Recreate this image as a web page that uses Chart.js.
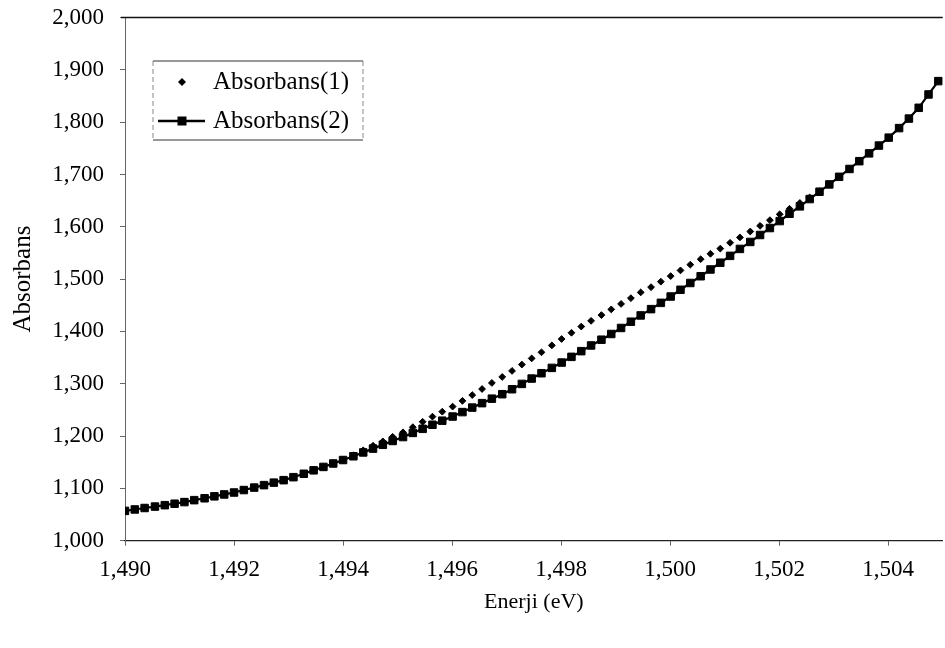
<!DOCTYPE html>
<html>
<head>
<meta charset="utf-8">
<script src="https://cdn.jsdelivr.net/npm/chart.js@4.4.1/dist/chart.umd.min.js"></script>
<style>
  html, body { margin: 0; padding: 0; background: #fff; overflow: hidden; }
  #wrap { width: 949px; height: 648px; }
</style>
</head>
<body>
<div id="wrap"><canvas id="absChart" width="949" height="648"></canvas></div>
<script>
// photon energy (eV) of each measured point
const energy = [
  1.49000, 1.49018, 1.49036, 1.49055, 1.49073, 1.49091, 1.49109, 1.49127, 1.49146, 1.49164,
  1.49182, 1.49200, 1.49218, 1.49237, 1.49255, 1.49273, 1.49291, 1.49309, 1.49328, 1.49346,
  1.49364, 1.49382, 1.49400, 1.49419, 1.49437, 1.49455, 1.49473, 1.49491, 1.49510, 1.49528,
  1.49546, 1.49564, 1.49582, 1.49601, 1.49619, 1.49637, 1.49655, 1.49673, 1.49692, 1.49710,
  1.49728, 1.49746, 1.49764, 1.49783, 1.49801, 1.49819, 1.49837, 1.49855, 1.49874, 1.49892,
  1.49910, 1.49928, 1.49946, 1.49965, 1.49983, 1.50001, 1.50019, 1.50037, 1.50056, 1.50074,
  1.50092, 1.50110, 1.50128, 1.50147, 1.50165, 1.50183, 1.50201, 1.50219, 1.50238, 1.50256,
  1.50274, 1.50292, 1.50310, 1.50329, 1.50347, 1.50365, 1.50383, 1.50401, 1.50420, 1.50438,
  1.50456, 1.50474, 1.50492
];

const absorbans1 = [
  1.0570, 1.0597, 1.0625, 1.0652, 1.0679, 1.0707, 1.0738, 1.0775, 1.0811, 1.0848,
  1.0884, 1.0921, 1.0968, 1.1015, 1.1062, 1.1110, 1.1157, 1.1214, 1.1279, 1.1345,
  1.1410, 1.1476, 1.1542, 1.1634, 1.1727, 1.1815, 1.1898, 1.1986, 1.2071, 1.2170,
  1.2273, 1.2371, 1.2466, 1.2563, 1.2673, 1.2784, 1.2899, 1.3015, 1.3130, 1.3245,
  1.3367, 1.3484, 1.3601, 1.3733, 1.3855, 1.3974, 1.4093, 1.4202, 1.4312, 1.4421,
  1.4526, 1.4636, 1.4746, 1.4846, 1.4951, 1.5057, 1.5166, 1.5276, 1.5380, 1.5484,
  1.5583, 1.5694, 1.5797, 1.5910, 1.6018, 1.6126, 1.6239, 1.6344, 1.6455, 1.6560,
  1.6680, 1.6810, 1.6955, 1.7105, 1.7254, 1.7403, 1.7552, 1.7704, 1.7886, 1.8068,
  1.8274, 1.8529, 1.8784
];

const absorbans2 = [
  1.0570, 1.0597, 1.0625, 1.0652, 1.0679, 1.0707, 1.0738, 1.0775, 1.0811, 1.0848,
  1.0884, 1.0921, 1.0968, 1.1015, 1.1062, 1.1110, 1.1157, 1.1214, 1.1279, 1.1345,
  1.1410, 1.1476, 1.1542, 1.1614, 1.1687, 1.1760, 1.1833, 1.1906, 1.1981, 1.2060,
  1.2138, 1.2216, 1.2294, 1.2373, 1.2458, 1.2544, 1.2629, 1.2715, 1.2800, 1.2895,
  1.2997, 1.3099, 1.3201, 1.3303, 1.3405, 1.3514, 1.3623, 1.3732, 1.3842, 1.3951,
  1.4066, 1.4186, 1.4306, 1.4426, 1.4546, 1.4667, 1.4796, 1.4926, 1.5055, 1.5184,
  1.5313, 1.5444, 1.5577, 1.5710, 1.5843, 1.5976, 1.6109, 1.6249, 1.6390, 1.6530,
  1.6670, 1.6810, 1.6955, 1.7105, 1.7254, 1.7403, 1.7552, 1.7704, 1.7886, 1.8068,
  1.8274, 1.8529, 1.8784
];

const seriesNames = ['Absorbans(1)', 'Absorbans(2)'];
const xTicks = [1.490, 1.492, 1.494, 1.496, 1.498, 1.500, 1.502, 1.504];
const yTicks = [1.0, 1.1, 1.2, 1.3, 1.4, 1.5, 1.6, 1.7, 1.8, 1.9, 2.0];

const serif = '"Liberation Serif", "Times New Roman", serif';
const comma = v => Number(v).toFixed(3).replace('.', ',');
const toPoints = ys => energy.map((x, i) => ({ x: x, y: ys[i] }));

// top frame line and the boxed legend in the upper left of the plot
const framePlugin = {
  id: 'frame',
  afterDraw(chart) {
    const { ctx, chartArea: a } = chart;
    ctx.save();
    ctx.strokeStyle = '#111';
    ctx.lineWidth = 1.5;
    ctx.beginPath();
    ctx.moveTo(a.left - 4, a.top);
    ctx.lineTo(a.right, a.top);
    ctx.stroke();

    const bx = a.left + 28, by = a.top + 43.5, bw = 210, bh = 79;
    ctx.fillStyle = '#fff';
    ctx.fillRect(bx, by, bw, bh);
    ctx.lineWidth = 1.2;
    ctx.strokeStyle = '#333';
    ctx.beginPath();
    ctx.moveTo(bx, by); ctx.lineTo(bx + bw, by);
    ctx.moveTo(bx, by + bh); ctx.lineTo(bx + bw, by + bh);
    ctx.stroke();
    ctx.setLineDash([5, 3]);
    ctx.strokeStyle = '#888';
    ctx.lineWidth = 1;
    ctx.beginPath();
    ctx.moveTo(bx, by); ctx.lineTo(bx, by + bh);
    ctx.moveTo(bx + bw, by); ctx.lineTo(bx + bw, by + bh);
    ctx.stroke();
    ctx.setLineDash([]);

    const mx = bx + 29, r1 = by + 21, r2 = by + 60;
    ctx.fillStyle = '#000';
    // diamond marker
    ctx.beginPath();
    ctx.moveTo(mx, r1 - 4); ctx.lineTo(mx + 4, r1);
    ctx.lineTo(mx, r1 + 4); ctx.lineTo(mx - 4, r1);
    ctx.closePath();
    ctx.fill();
    // line with square marker
    ctx.strokeStyle = '#000';
    ctx.lineWidth = 2.5;
    ctx.beginPath();
    ctx.moveTo(bx + 5, r2); ctx.lineTo(bx + 52, r2);
    ctx.stroke();
    ctx.fillRect(mx - 4.5, r2 - 4.5, 9, 9);

    ctx.font = '25px ' + serif;
    ctx.textBaseline = 'middle';
    ctx.textAlign = 'left';
    ctx.fillText(seriesNames[0], bx + 60, r1);
    ctx.fillText(seriesNames[1], bx + 60, r2);
    ctx.restore();
  }
};

new Chart(document.getElementById('absChart'), {
  type: 'scatter',
  data: {
    datasets: [
      {
        label: seriesNames[0],
        data: toPoints(absorbans1),
        showLine: false,
        pointStyle: 'rectRot',
        pointRadius: 3.4,
        borderWidth: 1,
        backgroundColor: '#000',
        borderColor: '#000',
        order: 2
      },
      {
        label: seriesNames[1],
        data: toPoints(absorbans2),
        showLine: true,
        tension: 0,
        pointStyle: 'rect',
        pointRadius: 5.3,
        borderWidth: 2.2,
        pointBorderWidth: 1,
        backgroundColor: '#000',
        borderColor: '#000',
        order: 1
      }
    ]
  },
  options: {
    responsive: false,
    animation: false,
    events: [],
    layout: { padding: { top: 17.5, right: 0, bottom: 0, left: 0 } },
    plugins: {
      legend: { display: false },
      tooltip: { enabled: false }
    },
    scales: {
      x: {
        type: 'linear',
        min: 1.490,
        max: 1.505,
        afterBuildTicks: s => { s.ticks = xTicks.map(v => ({ value: v })); },
        afterFit: s => { s.height = 107.3; },
        ticks: {
          callback: v => comma(v),
          font: { family: serif, size: 23 },
          color: '#000',
          padding: 10,
          maxRotation: 0,
          autoSkip: false
        },
        grid: { drawOnChartArea: false, tickLength: 5, color: '#666' },
        border: { color: '#222', width: 1.2 },
        title: {
          display: true,
          text: 'Enerji (eV)',
          font: { family: serif, size: 22 },
          color: '#000',
          padding: { top: 0, bottom: 33 }
        }
      },
      y: {
        min: 1.0,
        max: 2.0,
        afterBuildTicks: s => { s.ticks = yTicks.map(v => ({ value: v })); },
        afterFit: s => {
          s.width = 125;
          // the label gap is horizontal only, keep it out of the vertical padding
          s.paddingTop = 4;
          s.paddingBottom = 4;
        },
        ticks: {
          callback: v => comma(v),
          font: { family: serif, size: 23 },
          color: '#000',
          padding: 16
        },
        grid: { drawOnChartArea: false, tickLength: 5, color: '#666' },
        border: { color: '#666', width: 1, dash: [5, 3] },
        title: {
          display: true,
          text: 'Absorbans',
          font: { family: serif, size: 25 },
          color: '#000',
          padding: { top: 8, bottom: 0 }
        }
      }
    }
  },
  plugins: [framePlugin]
});
</script>
</body>
</html>
